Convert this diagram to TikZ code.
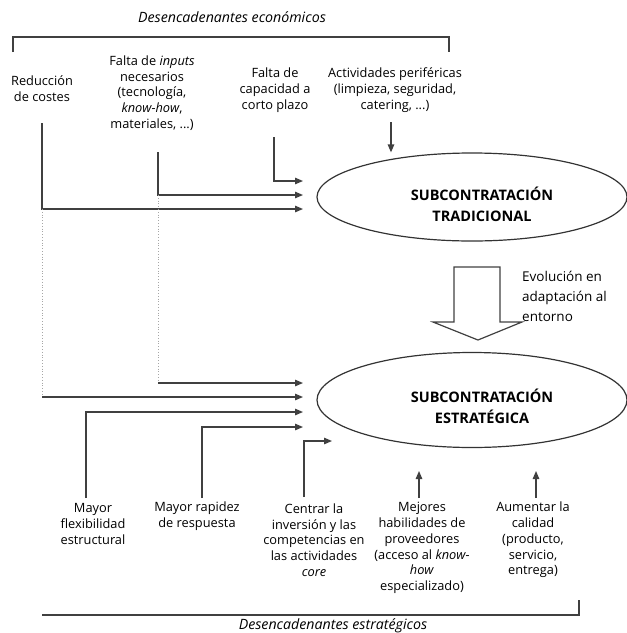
\documentclass[tikz,border=0pt]{standalone}
\usepackage{fontspec}
\setmainfont{Open Sans}
\usetikzlibrary{arrows.meta,shapes.geometric}
\tikzset{
  lbl/.style={align=center,font=\fontsize{12.8}{15.8}\selectfont,inner sep=1pt},
  heading/.style={font=\fontsize{14.2}{17}\selectfont\itshape},
  sub/.style={draw=black!80,line width=1.2pt,ellipse,minimum width=310pt,minimum height=88pt},
  subtxt/.style={align=center,font=\fontsize{14.5}{21}\selectfont\bfseries},
  evo/.style={align=left,anchor=west,font=\fontsize{13.5}{20}\selectfont,inner sep=0pt},
  flow/.style={draw=black!75,line width=1.3pt,-{Triangle[length=8pt,width=6.5pt]}},
  link/.style={draw=black!75,line width=1.3pt},
  ghost/.style={draw=black!35,line width=0.8pt,dotted},
}
\begin{document}
\begin{tikzpicture}[x=1pt,y=-1pt]
\useasboundingbox (0,0) rectangle (627,633);

% economic triggers
\node[heading] (econ) at (232,17) {Desencadenantes económicos};
\draw[link] (13,52) -- (13,37) -- (449,37) -- (449,52);
\node[lbl] (costes) at (42,89) {Reducción\\de costes};
\node[lbl] (inputs) at (152,93) {Falta de \textit{inputs}\\necesarios\\(tecnología,\\\textit{know-how},\\materiales, ...)};
\node[lbl] (capac) at (275,90) {Falta de\\capacidad a\\corto plazo};
\node[lbl] (perif) at (395,90) {Actividades periféricas\\(limpieza, seguridad,\\catering, ...)};

% the two ellipses
\node[sub] (trad) at (472,197) {};
\node[subtxt] (tradtxt) at (482,204) {SUBCONTRATACIÓN\\TRADICIONAL};
\node[sub,minimum height=95pt] (estr) at (472,400) {};
\node[subtxt] (estrtxt) at (482,406) {SUBCONTRATACIÓN\\ESTRATÉGICA};

% evolution arrow
\draw[link,line width=1.2pt] (454,267) -- (500,267) -- (500,322) -- (522,322)
  -- (478,340) -- (433,322) -- (454,322) -- cycle;
\node[evo] (evol) at (522,296) {Evolución en\\adaptación al\\entorno};

% arrow ends
\coordinate (t1) at (303,181);
\coordinate (t2) at (303,195);
\coordinate (t3) at (303,209);
\coordinate (s1) at (303,383);
\coordinate (s2) at (303,397);
\coordinate (s3) at (303,412);
\coordinate (s4) at (303,427);
\coordinate (s5) at (332,441);

% connectors from the economic triggers
\coordinate (c0) at (42,123);
\coordinate (c1) at (42,209);
\coordinate (c2) at (42,397);
\draw[flow] (c0) -- (c1) -- (t3);
\draw[ghost] (c1) -- (c2);
\draw[flow] (c2) -- (s2);
\coordinate (i0) at (158,152);
\coordinate (i1) at (158,195);
\coordinate (i2) at (158,383);
\draw[flow] (i0) -- (i1) -- (t2);
\draw[ghost] (i1) -- (i2);
\draw[flow] (i2) -- (s1);
\coordinate (k0) at (274,137);
\draw[flow] (k0) |- (t1);
\coordinate (p0) at (391,122);
\draw[flow] (p0) -- (p0 |- trad.north);

% strategic triggers
\node[lbl] (flex) at (93,524) {Mayor\\flexibilidad\\estructural};
\node[lbl] (rapidez) at (197,516) {Mayor rapidez\\de respuesta};
\node[lbl] (core) at (314,540) {Centrar la\\inversión y las\\competencias en\\las actividades\\\textit{core}};
\node[lbl] (prov) at (422,548) {Mejores\\habilidades de\\proveedores\\(acceso al \textit{know-}\\\textit{how}\\especializado)};
\node[lbl] (calidad) at (533,540) {Aumentar la\\calidad\\(producto,\\servicio,\\entrega)};

\coordinate (f0) at (86,498);
\coordinate (r0) at (202,498);
\coordinate (e0) at (304,497);
\coordinate (m0) at (419,498);
\coordinate (m1) at (419,471);
\coordinate (a0) at (536,498);
\coordinate (a1) at (536,471);
\draw[flow] (f0) |- (s3);
\draw[flow] (r0) |- (s4);
\draw[flow] (e0) |- (s5);
\draw[flow] (m0) -- (m1);
\draw[flow] (a0) -- (a1);

\draw[link] (42,615) -- (579,615) -- (579,600);
\node[heading] (estrat) at (333,626) {Desencadenantes estratégicos};
\end{tikzpicture}
\end{document}
